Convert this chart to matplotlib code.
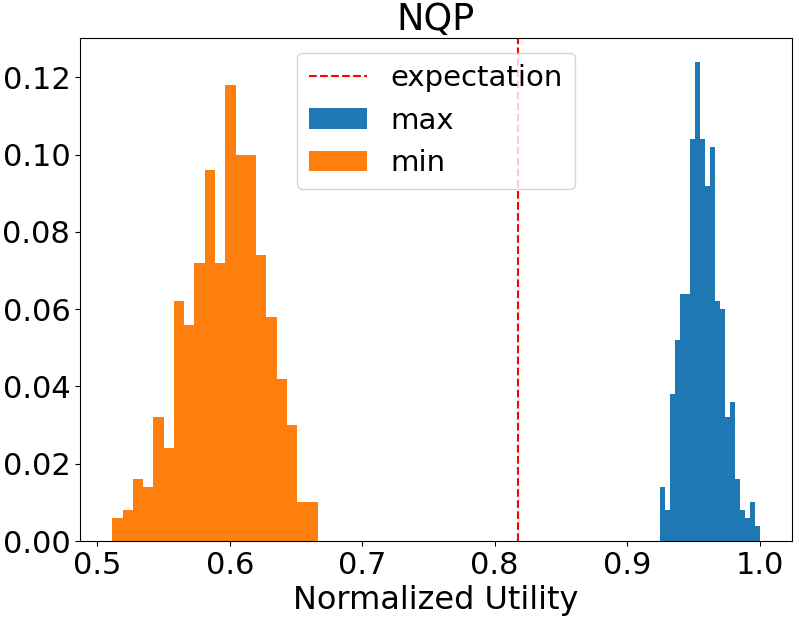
import numpy as np
import matplotlib
matplotlib.use('Agg')
import matplotlib.pyplot as plt

plt.rcParams['font.size'] = 22

# bin ranges and normalized frequencies (20 bins each)
min_range = (0.5113, 0.6663)
min_freq = [0.006, 0.008, 0.016, 0.014, 0.032, 0.024, 0.062, 0.056, 0.072, 0.096,
            0.072, 0.118, 0.100, 0.100, 0.074, 0.058, 0.042, 0.030, 0.010, 0.010]

max_range = (0.9248, 1.0)
max_freq = [0.014, 0.008, 0.038, 0.052, 0.064, 0.064, 0.104, 0.124, 0.104, 0.092,
            0.102, 0.062, 0.060, 0.032, 0.036, 0.016, 0.008, 0.006, 0.010, 0.004]

expectation = 0.8175

fig = plt.figure(figsize=(7.99, 6.2), dpi=100)
ax = fig.add_axes([0.1001, 0.1274, 0.8911, 0.8113])

max_edges = np.linspace(max_range[0], max_range[1], len(max_freq) + 1)
min_edges = np.linspace(min_range[0], min_range[1], len(min_freq) + 1)

_, _, p_max = ax.hist(max_edges[:-1], bins=max_edges, weights=max_freq)
_, _, p_min = ax.hist(min_edges[:-1], bins=min_edges, weights=min_freq)
l_exp = ax.axvline(expectation, color='red', linestyle='--')

ax.legend([l_exp, p_max, p_min], ['expectation', 'max', 'min'],
          loc='upper center', fontsize=21)
ax.set_title('NQP')
ax.set_xlabel('Normalized Utility', fontsize=23)

fig.savefig('out.png', dpi=100)
